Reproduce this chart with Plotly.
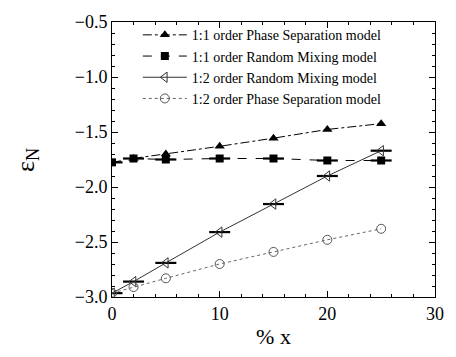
import plotly.graph_objects as go

x_ps11 = [2, 5, 10, 15, 20, 25]
y_ps11 = [-1.74, -1.70, -1.63, -1.556, -1.477, -1.424]

x_rm11 = [0, 2, 5, 10, 15, 20, 25]
y_rm11 = [-1.776, -1.741, -1.75, -1.741, -1.741, -1.759, -1.759]

x_rm12 = [0, 2, 5, 10, 15, 20, 25]
y_rm12 = [-2.965, -2.86, -2.69, -2.41, -2.155, -1.90, -1.67]

x_ps12 = [0, 2, 5, 10, 15, 20, 25]
y_ps12 = [-2.965, -2.91, -2.83, -2.70, -2.59, -2.48, -2.38]

serif = "Liberation Serif, Times New Roman, serif"

fig = go.Figure()

fig.add_trace(go.Scatter(
    x=x_ps11, y=y_ps11, mode="lines+markers",
    name="1:1 order Phase Separation model",
    line=dict(color="black", width=1, dash="dashdot"),
    marker=dict(symbol="triangle-up", size=9, color="black")))

fig.add_trace(go.Scatter(
    x=x_rm11, y=y_rm11, mode="markers", showlegend=False, hoverinfo="skip",
    marker=dict(symbol="line-ew", size=15, line=dict(width=2.2, color="black"))))
fig.add_trace(go.Scatter(
    x=x_rm11, y=y_rm11, mode="lines+markers",
    name="1:1 order Random Mixing model",
    line=dict(color="black", width=1, dash="dash"),
    marker=dict(symbol="square", size=8, color="black")))

fig.add_trace(go.Scatter(
    x=x_rm12, y=y_rm12, mode="markers", showlegend=False, hoverinfo="skip",
    marker=dict(symbol="line-ew", size=15, line=dict(width=2.2, color="black"))))
fig.add_trace(go.Scatter(
    x=x_rm12, y=y_rm12, mode="lines+markers",
    name="1:2 order Random Mixing model",
    line=dict(color="#333", width=1),
    marker=dict(symbol="triangle-left-open", size=9, color="#333",
                line=dict(width=1))))

fig.add_trace(go.Scatter(
    x=x_ps12, y=y_ps12, mode="lines+markers",
    name="1:2 order Phase Separation model",
    line=dict(color="#666", width=1, dash="dot"),
    marker=dict(symbol="circle-open", size=9, color="#555",
                line=dict(width=1))))

axis_common = dict(
    showgrid=False, zeroline=False, showline=True, linecolor="black",
    linewidth=1, mirror="ticks", ticks="inside", ticklen=6, tickcolor="black",
    tickfont=dict(family=serif, size=18, color="black"),
)

fig.update_xaxes(
    range=[0, 30], tickvals=[0, 10, 20, 30],
    minor=dict(dtick=2, ticks="inside", ticklen=3, tickcolor="black"),
    title=dict(text="% x", font=dict(family=serif, size=22, color="black"),
               standoff=6),
    **axis_common)
fig.update_yaxes(
    range=[-3.0, -0.5], tickvals=[-3.0, -2.5, -2.0, -1.5, -1.0, -0.5],
    ticktext=["\u22123.0", "\u22122.5", "\u22122.0", "\u22121.5", "\u22121.0", "\u22120.5"],
    minor=dict(dtick=0.1, ticks="inside", ticklen=3, tickcolor="black"),
    **axis_common)

fig.add_annotation(
    text="\u03b5<sub>N</sub>", xref="paper", yref="paper",
    x=-0.265, y=0.5, xanchor="center", yanchor="middle",
    textangle=-90, showarrow=False,
    font=dict(family=serif, size=26, color="black"))

fig.update_layout(
    width=456, height=357,
    margin=dict(l=112, r=17, t=13, b=60),
    paper_bgcolor="white", plot_bgcolor="white",
    showlegend=True,
    legend=dict(x=0.08, y=1.01, xanchor="left", yanchor="top",
                bgcolor="rgba(0,0,0,0)", borderwidth=0,
                font=dict(family=serif, size=14, color="black"),
                tracegroupgap=0, itemwidth=44),
)

fig.write_html("out.html")
